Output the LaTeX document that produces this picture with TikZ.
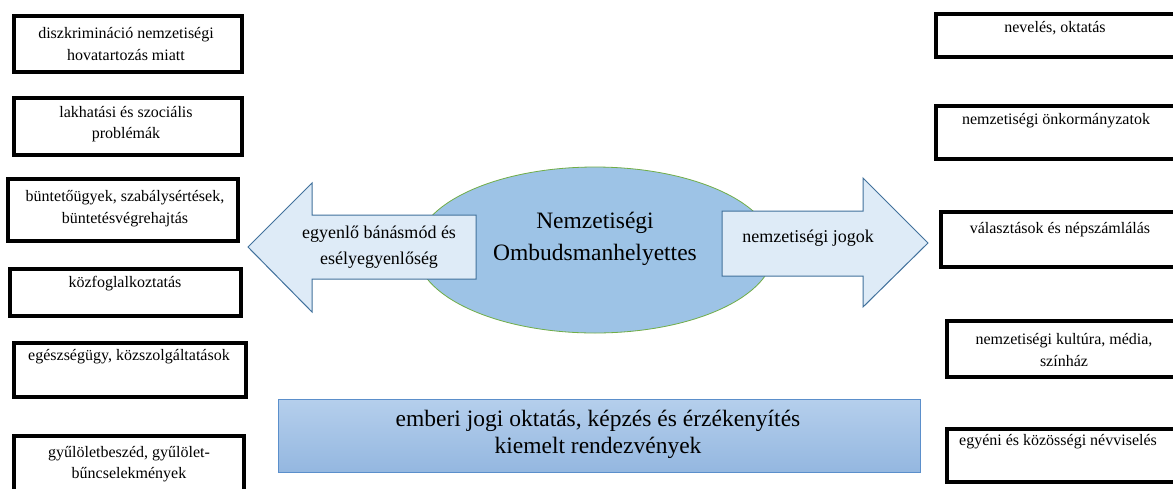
\documentclass[tikz,border=0pt]{standalone}
\usepackage{fontspec}
\setmainfont{Liberation Serif}
\usetikzlibrary{shapes.geometric}
\definecolor{ellfill}{HTML}{9DC3E6}
\definecolor{ellline}{HTML}{70AD47}
\definecolor{arrfill}{HTML}{DEEBF7}
\definecolor{arrline}{HTML}{41719C}
\definecolor{bartop}{HTML}{B5CFEC}
\definecolor{barbot}{HTML}{94B7E0}
\definecolor{barline}{HTML}{5B8FCB}
\tikzset{
  topicbox/.style={draw=black, line width=3.2pt, fill=white, inner sep=0pt},
  topictext/.style={font=\fontsize{16}{21.5}\selectfont, align=center, inner sep=0pt},
  arrowshape/.style={draw=arrline, line width=1pt, fill=arrfill, line join=miter},
  arrowtext/.style={font=\fontsize{18}{26}\selectfont, align=center, inner sep=0pt},
  hubshape/.style={ellipse, draw=ellline, line width=0.8pt, fill=ellfill, inner sep=0pt},
  hubtext/.style={font=\fontsize{23.5}{32}\selectfont, align=center, inner sep=0pt},
  barshape/.style={draw=barline, line width=0.9pt, top color=bartop, bottom color=barbot, inner sep=0pt},
  bartext/.style={font=\fontsize{23.5}{27}\selectfont, align=center, inner sep=0pt}
}
\begin{document}
\begin{tikzpicture}[x=1pt,y=-1pt]
\useasboundingbox (0,0) rectangle (1173,488);
\clip (0,0) rectangle (1173,488);
\fill[white] (0,0) rectangle (1173,488);

% central ellipse
\node[hubshape, minimum width=358pt, minimum height=166pt] (hub) at (595,250) {};

% arrows
\draw[arrowshape] (248,247) coordinate (ltip) -- (312,183) -- (312,215) -- (476,215)
  -- (476,279) -- (312,279) -- (312,312) -- cycle;
\draw[arrowshape] (722,211) -- (863,211) -- (863,178) -- (928,243) coordinate (rtip)
  -- (863,307) -- (863,276) -- (722,276) -- cycle;
\node[arrowtext] (lat) at (379,247) {egyenlő bánásmód és\\esélyegyenlőség};
\node[arrowtext] (rat) at (808,238.5) {nemzetiségi jogok};

\node[hubtext] (hubt) at (595,239) {Nemzetiségi\\Ombudsmanhelyettes};

% bottom bar
\node[barshape, minimum width=642pt, minimum height=73pt] (bar) at (599,435.5) {};
\node[bartext] (bart) at (598,434.5) {emberi jogi oktatás, képzés és érzékenyítés\\kiemelt rendezvények};

% left boxes
\node[topicbox, minimum width=228pt, minimum height=56pt] (l1) at (128,44) {};
\node[topicbox, minimum width=228pt, minimum height=57pt] (l2) at (128,126.5) {};
\node[topicbox, minimum width=230pt, minimum height=62pt] (l3) at (123,210) {};
\node[topicbox, minimum width=231pt, minimum height=47pt] (l4) at (125.5,292.5) {};
\node[topicbox, minimum width=232pt, minimum height=54pt] (l5) at (130,370) {};
\node[topicbox, minimum width=230pt, minimum height=63pt] (l6) at (129,467.5) {};

\node[topictext] (l1t) at (126,44) {diszkrimináció nemzetiségi\\hovatartozás miatt};
\node[topictext] (l2t) at (126,124) {lakhatási és szociális\\problémák};
\node[topictext] (l3t) at (125,208.5) {büntetőügyek, szabálysértések,\\büntetésvégrehajtás};
\node[topictext] (l4t) at (125,284) {közfoglalkoztatás};
\node[topictext] (l5t) at (129,357) {egészségügy, közszolgáltatások};
\node[topictext] (l6t) at (129,464) {gyűlöletbeszéd, gyűlölet-\\bűncselekmények};

% right boxes
\node[topicbox, minimum width=243pt, minimum height=43pt] (r1) at (1057.5,35.5) {};
\node[topicbox, minimum width=243pt, minimum height=53pt] (r2) at (1057.5,132.5) {};
\node[topicbox, minimum width=238pt, minimum height=55pt] (r3) at (1060,239.5) {};
\node[topicbox, minimum width=232pt, minimum height=56pt] (r4) at (1063,349) {};
\node[topicbox, minimum width=232pt, minimum height=53pt] (r5) at (1063,455.5) {};

\node[topictext] (r1t) at (1055,28) {nevelés, oktatás};
\node[topictext] (r2t) at (1056,121) {nemzetiségi önkormányzatok};
\node[topictext] (r3t) at (1060,230) {választások és népszámlálás};
\node[topictext] (r4t) at (1064,350) {nemzetiségi kultúra, média,\\színház};
\node[topictext] (r5t) at (1058,442) {egyéni és közösségi névviselés};
\end{tikzpicture}
\end{document}
